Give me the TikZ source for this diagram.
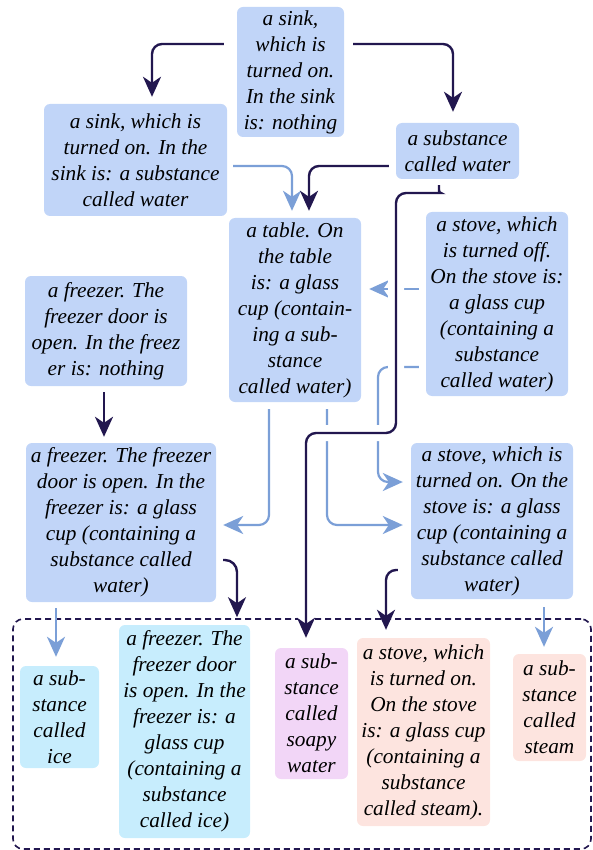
\documentclass[tikz,border=0pt]{standalone}
\usepackage{fontspec}
\setmainfont{Liberation Serif}
\usetikzlibrary{arrows.meta}
\definecolor{boxblue}{RGB}{193,213,248}
\definecolor{boxcyan}{RGB}{199,237,253}
\definecolor{boxpink}{RGB}{242,214,247}
\definecolor{boxpeach}{RGB}{253,228,223}
\definecolor{dkline}{RGB}{34,23,79}
\definecolor{ltline}{RGB}{123,159,215}
\begin{document}
\begin{tikzpicture}[x=1pt,y=-1pt,
  bx/.style={fill=boxblue, rounded corners=6pt, align=center, inner sep=0pt,
    font=\fontsize{21.3}{26}\selectfont\itshape},
  cy/.style={bx, fill=boxcyan},
  pk/.style={bx, fill=boxpink},
  pc/.style={bx, fill=boxpeach},
  tipx/.style={-{Stealth[length=20pt,width=18pt,inset=6pt]}},
  dk/.style={draw=dkline, line width=2.4pt, rounded corners=10pt, tipx},
  lt/.style={draw=ltline, line width=2.2pt, rounded corners=10pt, tipx},
  casing/.style={draw=white, line width=16pt, rounded corners=10pt},
  grpbox/.style={draw=dkline, line width=1.6pt, dash pattern=on 6pt off 4pt, rounded corners=10pt}
]
\useasboundingbox (0,0) rectangle (592,850);

\node[grpbox, minimum width=578pt, minimum height=230pt] (grp) at (302,734) {};

\node[bx, minimum width=107pt, minimum height=130pt] (S0) at (290.5,72)
  {a sink,\\which is\\turned on.\\In the sink\\is: nothing};
\node[bx, minimum width=183pt, minimum height=112pt] (S1) at (135.5,160)
  {a sink, which is\\turned on. In the\\sink is: a substance\\called water};
\node[bx, minimum width=123pt, minimum height=56pt] (W) at (457.5,151)
  {a substance\\called water};
\node[bx, minimum width=132pt, minimum height=184pt] (T) at (295,310)
  {a table. On\\the table\\is: a glass\\cup (contain-\\ing a sub-\\stance\\called water)};
\node[bx, minimum width=142pt, minimum height=184pt] (SO) at (497,304)
  {a stove, which\\is turned off.\\On the stove is:\\a glass cup\\(containing a\\substance\\called water)};
\node[bx, minimum width=162pt, minimum height=110pt] (F0) at (106,331)
  {a freezer. The\\freezer door is\\open. In the freez\\er is: nothing};
\node[bx, minimum width=190pt, minimum height=159pt] (F1) at (121,522.5)
  {a freezer. The freezer\\door is open. In the\\freezer is: a glass\\cup (containing a\\substance called\\water)};
\node[bx, minimum width=162pt, minimum height=156pt] (SN) at (492,521)
  {a stove, which is\\turned on. On the\\stove is: a glass\\cup (containing a\\substance called\\water)};
\node[cy, minimum width=79pt, minimum height=102pt] (I) at (59.5,717)
  {a sub-\\stance\\called\\ice};
\node[cy, minimum width=131pt, minimum height=213pt] (FI) at (184.5,731.5)
  {a freezer. The\\freezer door\\is open. In the\\freezer is: a\\glass cup\\(containing a\\substance\\called ice)};
\node[pk, minimum width=73pt, minimum height=131pt] (SW) at (311.5,713.5)
  {a sub-\\stance\\called\\soapy\\water};
\node[pc, minimum width=133pt, minimum height=188pt] (SC) at (423.5,732)
  {a stove, which\\is turned on.\\On the stove\\is: a glass cup\\(containing a\\substance\\called steam).};
\node[pc, minimum width=73pt, minimum height=107pt] (ST) at (549.5,707.5)
  {a sub-\\stance\\called\\steam};

% light connectors
\draw[lt] ([xshift=6pt,yshift=-6pt]S1.east) -| ([xshift=-3pt,yshift=7pt]T.north);
\draw[lt] ([xshift=-7pt,yshift=15pt]SO.west) -- ([xshift=8pt,yshift=21pt]T.east);
\draw[lt] ([xshift=-7pt,yshift=-63pt]SO.west) -- (378,367) -- (378,482) -- ([xshift=-8pt,yshift=39pt]SN.west);
\draw[lt] ([xshift=-26pt,yshift=-7pt]T.south) -- (269,525) -- ([xshift=7pt,yshift=-2.5pt]F1.east);
\draw[lt] ([xshift=32pt,yshift=-7pt]T.south) -- (327,525) -- ([xshift=-8pt,yshift=-4pt]SN.west);
\draw[lt] ([xshift=52pt,yshift=-8pt]SN.south) -- ([xshift=-5.5pt,yshift=7pt]ST.north);
\draw[lt] ([xshift=-65pt,yshift=-6pt]F1.south) -- ([xshift=-3.5pt,yshift=9pt]I.north);

% dark connectors
\draw[dk] ([xshift=-13pt,yshift=28pt]S0.west) -| ([xshift=16.5pt,yshift=7pt]S1.north);
\draw[dk] ([xshift=9pt,yshift=28pt]S0.east) -| ([xshift=-4.5pt,yshift=11pt]W.north);
\draw[dk] ([xshift=-7pt,yshift=-15pt]W.west) -| ([xshift=14pt,yshift=7pt]T.north);
\draw[casing] ([xshift=-18.5pt,yshift=-6pt]W.south) .. controls (439,193) .. (431,193)
  -- (396,193) -- (396,433) -- (306,433) -- ([xshift=-5.5pt,yshift=10pt]SW.north);
\draw[dk] ([xshift=-18.5pt,yshift=-6pt]W.south) .. controls (439,193) .. (431,193)
  -- (396,193) -- (396,433) -- (306,433) -- ([xshift=-5.5pt,yshift=10pt]SW.north);
\draw[dk] ([xshift=-2pt,yshift=-6pt]F0.south) -- ([xshift=-17pt,yshift=6pt]F1.north);
\draw[dk, rounded corners=12pt] ([xshift=7pt,yshift=-37.5pt]F1.east) -| ([xshift=-65pt,yshift=1pt]grp.north);
\draw[dk] ([xshift=-13pt,yshift=-49pt]SN.west) -| ([xshift=-37.5pt,yshift=8pt]SC.north);
\end{tikzpicture}
\end{document}
